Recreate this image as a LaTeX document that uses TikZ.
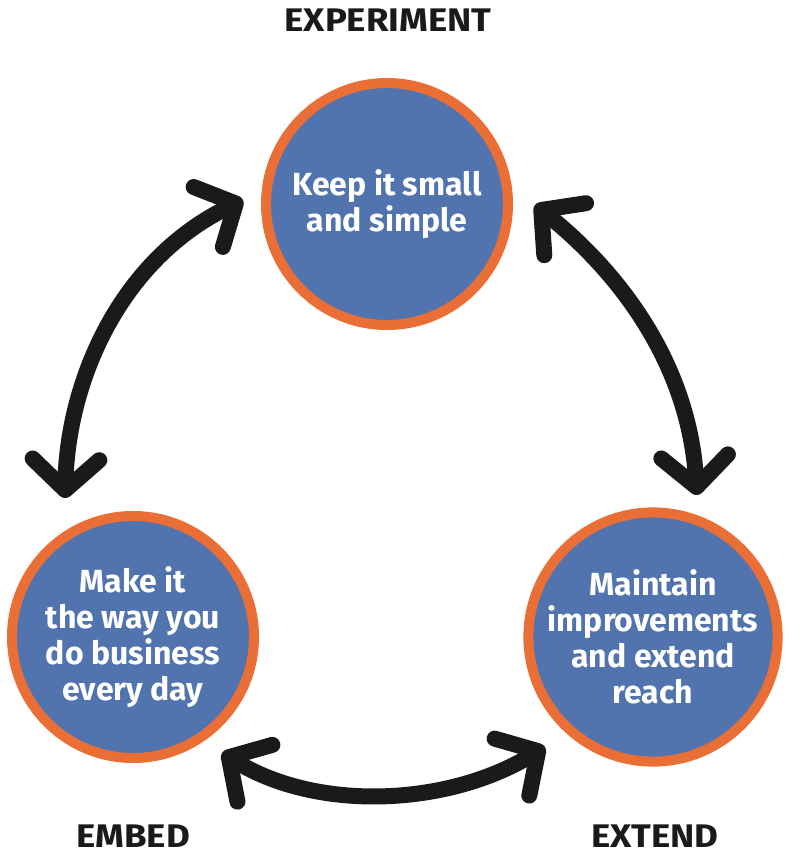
\documentclass[tikz,border=0pt]{standalone}
\usepackage{fontspec}
\setmainfont{Fira Sans}
\usetikzlibrary{arrows.meta}
\definecolor{cblue}{HTML}{5274AE}
\definecolor{corange}{HTML}{E96F36}
\definecolor{cblack}{HTML}{1A1A1A}
\begin{document}
\begin{tikzpicture}[x=0.75pt,y=-0.75pt,
  stage/.style={circle, draw=corange, fill=cblue, line width=7.5pt,
    minimum size=181.5pt, inner sep=0pt, text=white, align=center,
    font=\bfseries\fontsize{24}{27}\selectfont},
  phase/.style={anchor=base, text=cblack,
    font=\bfseries\fontsize{24.5}{27}\selectfont\addfontfeature{FakeStretch=1.12}},
  cyc/.style={line width=12pt, draw=cblack,
    {Straight Barb[length=23pt,width=50pt,round]}-{Straight Barb[length=23pt,width=50pt,round]}}]
\useasboundingbox (0,0) rectangle (793,863);
\fill[white] (0,0) rectangle (793,863);
% stages
\node[stage] (exp) at (387,204) {Keep it small\\and simple};
\node[stage] (emb) at (133,637) {Make it\\the way you\\do business\\every day};
\node[stage] (ext) at (653,637) {Maintain\\improvements\\and extend\\reach};
% phase labels
\node[phase] (lexp) at (388,32) {EXPERIMENT};
\node[phase] (lemb) at (133,847) {EMBED};
\node[phase] (lext) at (655,847) {EXTEND};
% arrow ends
\coordinate (a1s) at (65,498);
\coordinate (a1e) at (243,200);
\coordinate (a2s) at (535,205);
\coordinate (a2e) at (697,495);
\coordinate (a3s) at (222,753);
\coordinate (a3e) at (545,747);
% cycle arrows
\draw[cyc] (a1s) .. controls (68,380) and (120,260) .. (a1e);
\draw[cyc] (a2s) .. controls (621,274) and (689,365) .. (a2e);
\draw[cyc] (a3s) .. controls (318,812) and (448,806) .. (a3e);
\end{tikzpicture}
\end{document}
